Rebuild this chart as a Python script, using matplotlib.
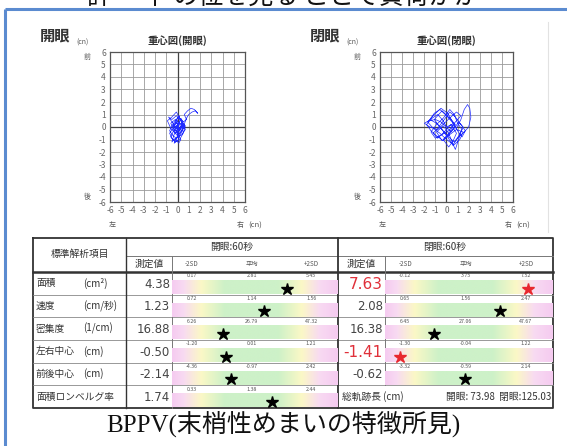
import numpy as np
import matplotlib
matplotlib.use('Agg')
import matplotlib.pyplot as plt
from matplotlib.colors import LinearSegmentedColormap

JP = ['Noto Sans CJK JP', 'DejaVu Sans']
plt.rcParams['font.family'] = JP

# ---------------- data ----------------
ticks = list(range(-6, 7))

open_x = [0.0, 0.2, -0.3, 0.1, 0.4, -0.2, -0.6, -0.3, 0.2, 0.5, 0.3, -0.1, -0.5, -0.8, -0.4,
          0.0, 0.3, 0.1, -0.2, -0.5, -0.3, 0.0, 0.2, 0.6, 0.4, 0.1, -0.2, -0.6, -0.9, -0.5,
          -0.1, 0.2, 0.5, 0.8, 0.6, 0.9, 1.2, 1.5, 1.8, 1.6, 1.3, 1.0, 0.8, 0.5, 0.2, -0.1,
          0.1, -0.3, 0.0, 0.3,
          0.5, 0.7, 0.4, -0.1, -0.4, -0.7, -0.5, -0.2, 0.1, 0.4, 0.6, 0.3, 0.0, -0.3, -0.6,
          -0.4, 0.0, 0.3, 0.5, 0.2, -0.1, -0.4, -0.2, 0.1, 0.4, 0.7, 0.5, 0.2, -0.2, -0.5,
          -0.7, -0.4, -0.1, 0.2, 0.0, -0.3, 0.2, 0.5, 0.3, 0.0]
open_y = [0.0, 0.4, 0.2, -0.3, 0.1, 0.6, 0.3, -0.2, -0.5, -0.1, 0.5, 0.9, 0.6, 0.8, 0.3,
          -0.6, -1.0, -1.3, -0.9, -1.2, -0.6, -0.2, 0.3, 0.2, -0.4, -0.8, -0.5, -0.1, 0.5, 0.8,
          1.2, 0.7, 0.4, 0.6, 1.0, 1.3, 1.5, 1.4, 1.1, 1.3, 1.2, 1.0, 0.7, 0.0, -0.3, 0.1,
          -1.0, -1.3, -0.7, 0.0,
          0.3, -0.2, -0.6, -0.9, -0.7, -0.3, 0.1, 0.5, 0.8, 0.4, 0.0, -0.4, -0.8, -1.1, -0.8,
          -0.4, 0.2, 0.6, 0.2, -0.2, 0.4, 0.0, -0.5, -0.3, 0.3, 0.1, -0.5, -1.0, -1.2, -0.9,
          -0.5, -0.1, 0.6, 0.9, 0.5, 0.1, -0.2, 0.4, 0.7, 0.0]

closed_x = [0.0, -0.5, -1.0, -1.6, -2.0, -1.5, -0.8, -0.2, 0.4, 0.9, 1.3, 0.8, 0.2, -0.4, -1.0,
            -1.4, -0.9, -0.3, 0.3, 0.7, 1.0, 1.4, 1.1, 0.6, 0.0, -0.6, -1.2, -1.7, -1.2, -0.5,
            0.1, 0.5, 0.9, 1.3, 1.6, 1.9, 2.1, 2.2, 2.0, 1.6, 1.2, 0.8, 0.5, 0.2, -0.3, -0.9,
            -0.4, 0.3, 0.9, 1.5, 1.2, 0.6, 0.1, -0.6, -1.1, -0.4, 0.3, 0.8, 0.4, 0.0,
            -0.3, -0.8, -1.3, -1.8, -1.4, -0.9, -0.3, 0.2, 0.7, 1.1, 1.5, 1.2, 0.7, 0.2, -0.4,
            -0.9, -1.5, -1.1, -0.6, 0.0, 0.5, 1.0, 1.4, 1.7, 1.3, 0.8, 0.3, -0.2, -0.7, -1.2,
            -0.8, -0.2, 0.4, 0.9, 0.6, 0.2, -0.3, 0.3, 0.7, 0.0]
closed_y = [0.0, 0.4, 0.6, 0.5, 0.3, 0.0, -0.2, 0.3, 0.8, 1.2, 0.9, 0.4, -0.3, -0.6, -0.9,
            -0.4, 0.2, 0.7, 1.4, 1.0, 0.3, -0.2, -0.8, -1.4, -1.0, -0.5, -0.1, 0.4, 0.9, 1.5,
            1.1, 0.5, -0.1, 0.6, 1.4, 1.8, 1.5, 0.8, 0.0, -0.4, -0.7, -1.8, -1.2, -0.5, 0.1,
            -0.4, -1.1, -0.6, -0.2, -0.4, -1.0, -1.5, -0.8, 0.0, 0.6, 1.3, 0.7, 0.2, -0.4, 0.0,
            0.5, 1.0, 0.7, 0.2, -0.3, -0.7, -1.1, -0.6, -0.1, 0.4, 0.0, -0.6, -1.2, -0.8, -0.2,
            0.3, 0.6, 1.1, 1.4, 0.9, 0.4, -0.3, -0.8, -0.3, 0.2, 0.8, 1.2, 0.6, 0.0, -0.5,
            -0.9, -0.4, 0.2, -0.5, -1.1, -1.6, -1.0, -0.4, 0.3, 0.0]

row_labels = ['面積', '速度', '密集度', '左右中心', '前後中心', '面積ロンベルグ率']
row_units = ['(cm²)', '(cm/秒)', '(1/cm)', '(cm)', '(cm)', '']

open_vals = [4.38, 1.23, 16.88, -0.50, -2.14, 1.74]
open_lo = [0.17, 0.72, 6.26, -1.20, -4.36, 0.33]
open_mean = [2.81, 1.14, 26.79, 0.01, -0.97, 1.38]
open_hi = [5.45, 1.56, 47.32, 1.21, 2.42, 2.44]

closed_vals = [7.63, 2.08, 16.38, -1.41, -0.62]
closed_lo = [-0.12, 0.65, 6.45, -1.30, -3.32]
closed_mean = [3.75, 1.56, 27.06, -0.04, -0.59]
closed_hi = [7.52, 2.47, 47.67, 1.22, 2.14]

path_open = 73.98
path_closed = 125.03

# ---------------- figure ----------------
W, H = 567, 446
fig = plt.figure(figsize=(W / 100, H / 100), dpi=100)
fig.patch.set_facecolor('white')
bg = fig.add_axes([0, 0, 1, 1])
bg.set_xlim(0, W)
bg.set_ylim(H, 0)
bg.axis('off')


def fr(x0, y0, x1, y1):
    return [x0 / W, 1 - y1 / H, (x1 - x0) / W, (y1 - y0) / H]


# cut-off heading text at very top (only its lower part is visible in the source)
bg.text(283, -3, '評ー 中 の位を見る ことで負荷がか', fontsize=18, ha='center', va='center',
        color='#111111')

# blue frame
bg.plot([5, 5], [9, H], color='#5b8bd0', lw=2.2, solid_capstyle='butt')
bg.plot([5, W], [9, 9], color='#5b8bd0', lw=2.2, solid_capstyle='butt')
bg.plot([548, 548], [22, 232], color='#e2e2e2', lw=0.8)

GRAY = '#555555'


def traj(x0, x1, xs, ys, big, title):
    y0, y1 = 52, 202
    ax = fig.add_axes(fr(x0, y0, x1, y1))
    ax.set_xlim(-6, 6)
    ax.set_ylim(-6, 6)
    ax.set_xticks(ticks)
    ax.set_yticks(ticks)
    ax.set_xticklabels([str(t) for t in ticks])
    ax.set_yticklabels([str(t) for t in ticks])
    ax.tick_params(length=0, labelsize=6, labelcolor='#666666', pad=3)
    ax.grid(True, color='#9a9a9a', lw=0.6)
    ax.axhline(0, color='#444444', lw=0.9)
    ax.axvline(0, color='#444444', lw=0.9)
    for s in ax.spines.values():
        s.set_color('#555555')
        s.set_linewidth(0.9)
    ax.plot(xs, ys, color='#1f2bff', lw=0.5, zorder=3)
    # labels
    bg.text(x0 - 70, 35, big, fontsize=11, fontweight='bold', ha='left', va='center',
            color='#333333')
    bg.text(x0 - 34, 43, '(cn)', fontsize=5, ha='left', va='center', color=GRAY)
    bg.text((x0 + x1) / 2, 41, title, fontsize=7.5, fontweight='bold', ha='center',
            va='center', color='#333333')
    bg.text(x0 - 23, 57, '前', fontsize=5, ha='center', va='center', color=GRAY)
    bg.text(x0 - 23, 197, '後', fontsize=5, ha='center', va='center', color=GRAY)
    bg.text(x0 + 2, 225, '左', fontsize=5, ha='center', va='center', color=GRAY)
    bg.text(x1 - 5, 225, '右', fontsize=5, ha='center', va='center', color=GRAY)
    bg.text(x1 + 3, 226, '(cn)', fontsize=5.5, ha='left', va='center', color=GRAY)


traj(110, 245, open_x, open_y, '開眼', '重心図(開眼)')
traj(380, 513, closed_x, closed_y, '閉眼', '重心図(閉眼)')

# ---------------- table ----------------
TL, TR, TT, TB = 33, 553, 238, 408
HDR = 272
SUB = 256
rows_y = np.linspace(HDR, TB, 7)
DK = '#333333'

bg.plot([TL, TR, TR, TL, TL], [TT, TT, TB, TB, TT], color=DK, lw=1.3)
bg.plot([TL, TR], [HDR, HDR], color=DK, lw=1.8)
bg.plot([126, TR], [SUB, SUB], color='#777777', lw=0.7)
for yy in rows_y[1:-1]:
    bg.plot([TL, TR], [yy, yy], color='#888888', lw=0.6)
bg.plot([126, 126], [TT, TB], color=DK, lw=1.0)
bg.plot([338, 338], [TT, TB], color=DK, lw=1.3)
bg.plot([172, 172], [SUB, TB], color='#777777', lw=0.7)
bg.plot([385, 385], [SUB, rows_y[5]], color='#777777', lw=0.7)

bg.text(80, 254, '標準解析項目', fontsize=7, ha='center', va='center', color=DK)
bg.text(232, 247, '開眼:60秒', fontsize=7, ha='center', va='center', color=DK)
bg.text(445, 247, '閉眼:60秒', fontsize=7, ha='center', va='center', color=DK)
bg.text(149, 264, '測定値', fontsize=7, ha='center', va='center', color=DK)
bg.text(361, 264, '測定値', fontsize=7, ha='center', va='center', color=DK)

for i in range(6):
    yc = (rows_y[i] + rows_y[i + 1]) / 2
    bg.text(36, yc, row_labels[i], fontsize=7, ha='left', va='center', color=DK)
    if row_units[i]:
        bg.text(83, yc, row_units[i], fontsize=7, ha='left', va='center', color=DK)

XL, XR = -2.67, 2.9
stops = [(-2.67, '#f5cbf0'), (-2.3, '#f8daf2'), (-1.7, '#fbf8c6'), (-0.9, '#cdf1c8'),
         (0.9, '#cdf1c8'), (1.7, '#fbf8c6'), (2.3, '#f8daf2'), (2.9, '#f5cbf0')]
cmap = LinearSegmentedColormap.from_list(
    'sd', [((p - XL) / (XR - XL), c) for p, c in stops])
grad = np.linspace(XL, XR, 400)[None, :]


def zscore(v, lo, m, hi):
    if v >= m:
        return 2 * (v - m) / (hi - m)
    return 2 * (v - m) / (m - lo)


def section(x0, x1, vx, vals, lo, mean, hi):
    ax = fig.add_axes(fr(x0, HDR, x1, TB))
    ax.set_xlim(XL, XR)
    ax.set_ylim(6, 0)
    ax.axis('off')
    for lab, p in zip(['-2SD', '平均', '+2SD'], [-2, 0, 2]):
        bg.text(x0 + (p - XL) / (XR - XL) * (x1 - x0), 264, lab, fontsize=4.5,
                ha='center', va='center', color='#555555')
    for i, v in enumerate(vals):
        ax.imshow(grad, extent=(XL, XR, i + 0.97, i + 0.36), cmap=cmap, aspect='auto',
                  interpolation='bilinear', zorder=1)
        for p, r in zip([-2, 0, 2], [lo[i], mean[i], hi[i]]):
            ax.text(p, i + 0.17, f'{r:.2f}', fontsize=3.8, ha='center', va='center',
                    color='#555555')
        out = v < lo[i] or v > hi[i]
        col = '#e8282e' if out else 'black'
        z = zscore(v, lo[i], mean[i], hi[i])
        ax.plot(z, i + 0.74, marker='*', ms=9, color=col, mec=col, zorder=4)
        yc = (rows_y[i] + rows_y[i + 1]) / 2
        if out:
            bg.text(vx, yc + 1, f'{v:.2f}', fontsize=11, ha='right', va='center',
                    color='#e0303a', family=['Liberation Sans Narrow', 'DejaVu Sans'])
        else:
            bg.text(vx, yc + 1, f'{v:.2f}', fontsize=8.5, ha='right', va='center',
                    color='#444444', family=['Liberation Sans Narrow', 'DejaVu Sans'])
    ax.set_xlim(XL, XR)
    ax.set_ylim(6, 0)


section(172, 338, 170, open_vals, open_lo, open_mean, open_hi)
section(385, 553, 383, closed_vals, closed_lo, closed_mean, closed_hi)

yl = (rows_y[5] + rows_y[6]) / 2
bg.text(342, yl, '総軌跡長 (cm)', fontsize=7, ha='left', va='center', color=DK)
bg.text(551, yl, f'開眼: {path_open:.2f}  閉眼:{path_closed:.2f}', fontsize=7,
        ha='right', va='center', color=DK)

# caption
bg.text(283, 424, 'BPPV(末梢性めまいの特徴所見)', fontsize=18, ha='center', va='center',
        color='#111111', family=['Liberation Serif', 'Noto Sans CJK JP'])

fig.savefig('out.png', dpi=100)
